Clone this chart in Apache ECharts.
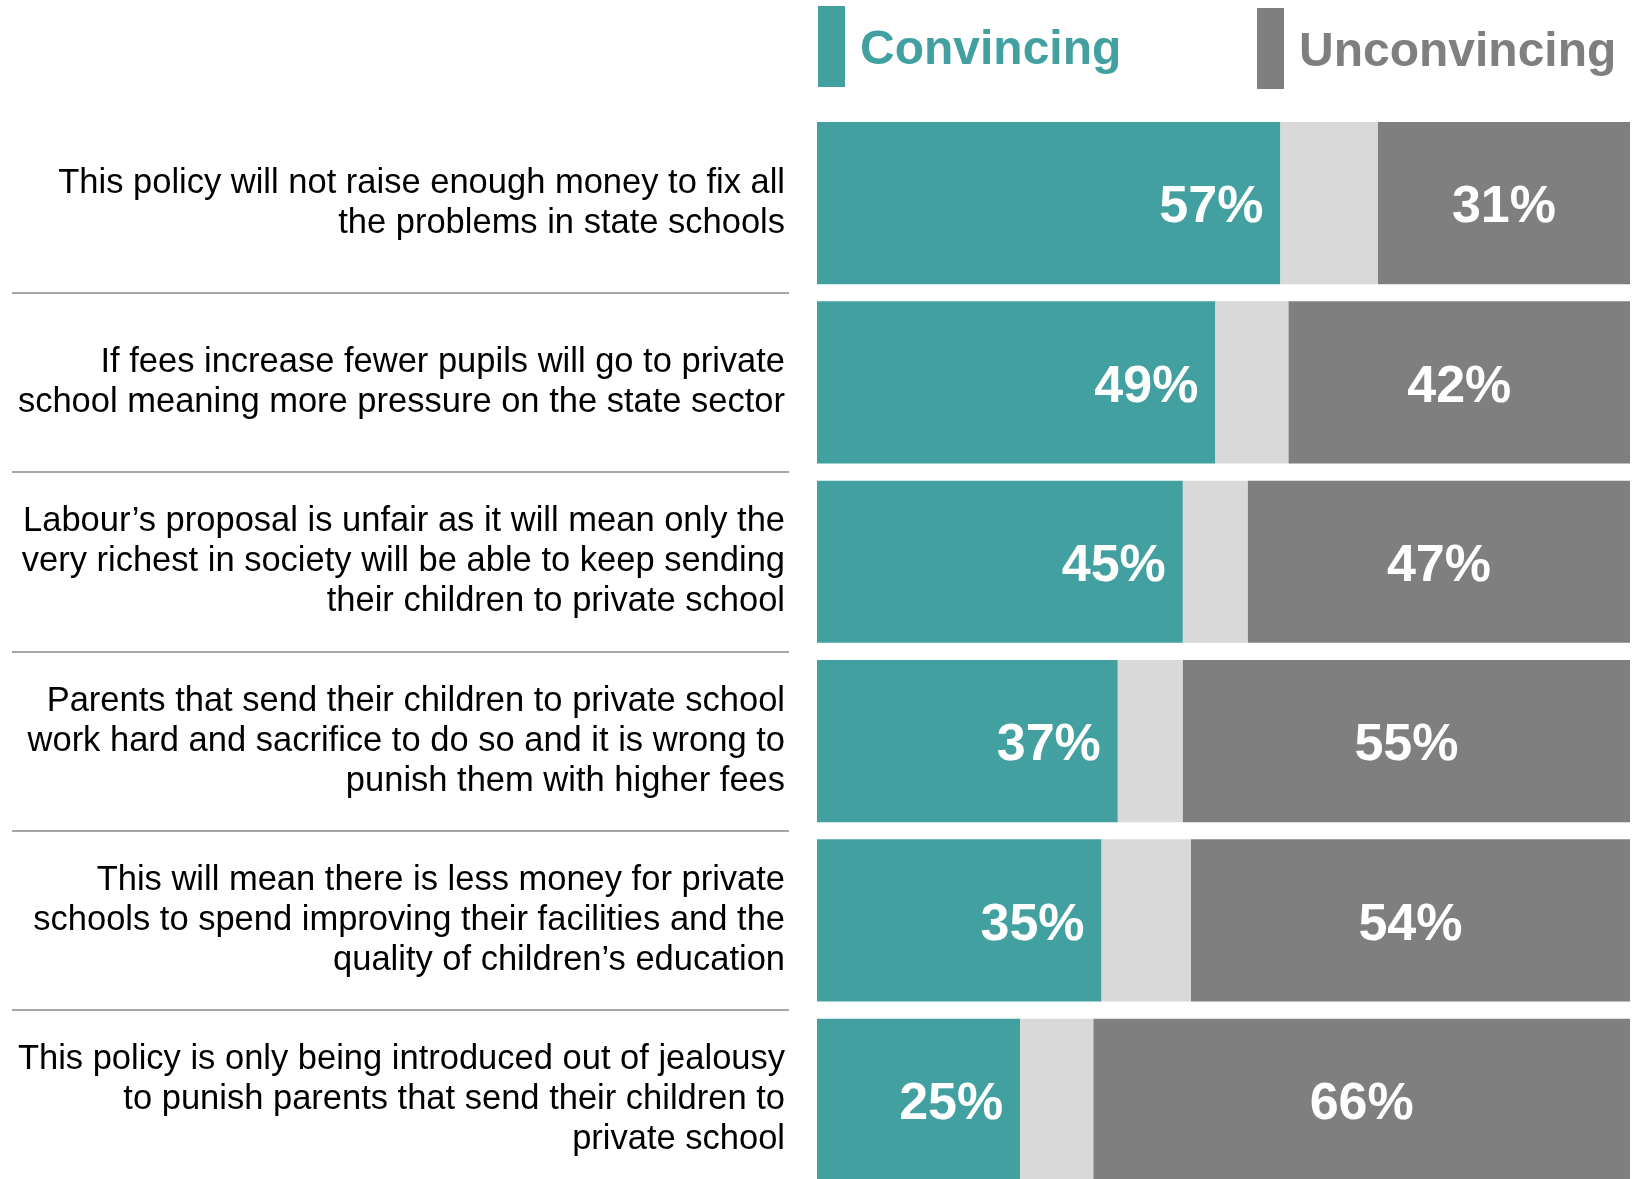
<!DOCTYPE html>
<html>
<head>
<meta charset="utf-8">
<style>
  html, body { margin: 0; padding: 0; background: #ffffff; }
  #chart { width: 1640px; height: 1179px; }
</style>
<script src="https://cdn.jsdelivr.net/npm/echarts@6/dist/echarts.min.js"></script>
</head>
<body>
<div id="chart"></div>
<script>
const categories = [
  "This policy will not raise enough money to fix all\nthe problems in state schools",
  "If fees increase fewer pupils will go to private\nschool meaning more pressure on the state sector",
  "Labour\u2019s proposal is unfair as it will mean only the\nvery richest in society will be able to keep sending\ntheir children to private school",
  "Parents that send their children to private school\nwork hard and sacrifice to do so and it is wrong to\npunish them with higher fees",
  "This will mean there is less money for private\nschools to spend improving their facilities and the\nquality of children\u2019s education",
  "This policy is only being introduced out of jealousy\nto punish parents that send their children to\nprivate school"
];
const convincing = [57, 49, 45, 37, 35, 25];
const neither = [12, 9, 8, 8, 11, 9];
const unconvincing = [31, 42, 47, 55, 54, 66];

const TEAL = '#43A0A0';
const LIGHT = '#D9D9D9';
const DARK = '#7F7F7F';
const FONT = '"Liberation Sans", Arial, sans-serif';

const chart = echarts.init(document.getElementById('chart'), null, { renderer: 'canvas' });

const valueLabel = (pos, dist) => ({
  show: true,
  position: pos,
  distance: dist,
  offset: [0, 5],
  formatter: '{c}%',
  color: '#ffffff',
  fontFamily: FONT,
  fontWeight: 'bold',
  fontSize: 52
});

const legendBox = (left, top, name, color) => ({
  left: left, top: top, padding: 0,
  data: [name],
  icon: 'rect', itemWidth: 27, itemHeight: 81,
  selectedMode: false,
  formatter: '{t|{name}}',
  textStyle: {
    padding: [0, 0, 0, 10],
    rich: {
      t: { fontFamily: FONT, fontWeight: 'bold', fontSize: 48, color: color, padding: [9, 0, 0, 0] }
    }
  }
});

chart.setOption({
  animation: false,
  backgroundColor: '#ffffff',
  legend: [
    legendBox(818, 6, 'Convincing', TEAL),
    legendBox(1257, 8, 'Unconvincing', DARK)
  ],
  grid: [
    { left: 817, width: 813, top: 113.4, height: 1076, outerBoundsMode: 'none', containLabel: false },
    { left: 12, width: 777, top: 113.4, height: 1076, outerBoundsMode: 'none', containLabel: false }
  ],
  xAxis: [
    { type: 'value', gridIndex: 0, min: 0, max: 100, show: false },
    { type: 'value', gridIndex: 1, min: 0, max: 100, show: false }
  ],
  yAxis: [
    {
      type: 'category', gridIndex: 0, inverse: true, data: categories,
      axisLine: { show: false }, axisTick: { show: false }, splitLine: { show: false },
      axisLabel: {
        show: true, margin: 32, color: '#000000', fontFamily: FONT,
        fontSize: 34.5, lineHeight: 40, align: 'right'
      }
    },
    {
      type: 'category', gridIndex: 1, inverse: true, data: categories,
      axisLine: { show: false }, axisTick: { show: false }, axisLabel: { show: false },
      splitLine: {
        show: true, showMinLine: false, showMaxLine: false, interval: 0,
        lineStyle: { color: '#A6A6A6', width: 2 }
      }
    }
  ],
  series: [
    {
      name: 'Convincing', type: 'bar', stack: 'all', xAxisIndex: 0, yAxisIndex: 0,
      data: convincing, barCategoryGap: '9.6%',
      itemStyle: { color: TEAL },
      label: valueLabel('insideRight', 17)
    },
    {
      name: 'Neither', type: 'bar', stack: 'all', xAxisIndex: 0, yAxisIndex: 0,
      data: neither,
      itemStyle: { color: LIGHT },
      label: { show: false }
    },
    {
      name: 'Unconvincing', type: 'bar', stack: 'all', xAxisIndex: 0, yAxisIndex: 0,
      data: unconvincing,
      itemStyle: { color: DARK },
      label: valueLabel('inside', 0)
    }
  ]
});
</script>
</body>
</html>
